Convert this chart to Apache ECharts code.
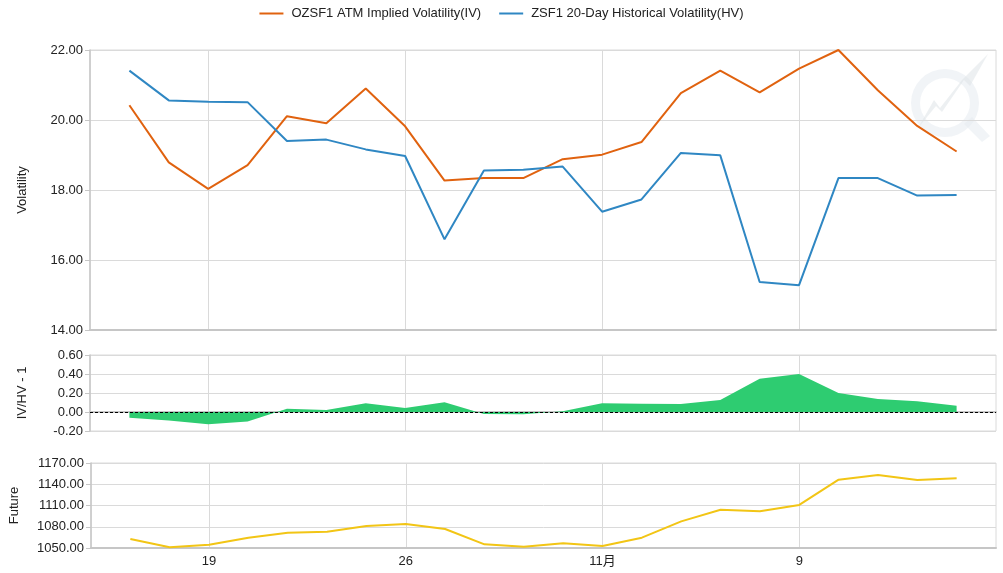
<!DOCTYPE html>
<html>
<head>
<meta charset="utf-8">
<style>
html,body{margin:0;padding:0;background:#fff;}
#chart{width:1003px;height:573px;}
</style>
<script src="https://cdn.jsdelivr.net/npm/echarts@6/dist/echarts.min.js"></script>
</head>
<body>
<div id="chart"></div>
<script>
// ---- data ----
const dates = ['10-15','10-16','10-19','10-20','10-21','10-22','10-23','10-26','10-27','10-28','10-29','10-30',
               '11-02','11-03','11-04','11-05','11-06','11-09','11-10','11-11','11-12','11-13'];
const tickLabels = {'10-19':'19','10-26':'26','11-02':'11月','11-09':'9'};
const ivValues = [20.42,18.79,18.03,18.71,20.11,19.91,20.90,19.82,18.27,18.34,18.34,18.88,
                  19.01,19.37,20.77,21.41,20.79,21.47,22.00,20.85,19.83,19.10];
const hvValues = [21.41,20.56,20.52,20.51,19.40,19.44,19.16,18.97,16.59,18.56,18.58,18.67,
                  17.38,17.73,19.06,18.99,15.37,15.28,18.34,18.34,17.84,17.86];
const ratioValues = [-0.06,-0.09,-0.13,-0.10,0.035,0.021,0.093,0.042,0.103,-0.02,-0.024,0.007,
                     0.091,0.088,0.085,0.126,0.35,0.40,0.20,0.137,0.112,0.067];
const futureValues = [1062.7,1051.0,1054.7,1064.6,1071.6,1073.0,1081.0,1083.9,1076.8,1055.2,1051.9,1056.6,
                      1052.8,1064.6,1087.6,1104.1,1101.8,1110.8,1146.5,1153.1,1146.0,1148.4];
const ivName = 'OZSF1 ATM Implied Volatility(IV)';
const hvName = 'ZSF1 20-Day Historical Volatility(HV)';

// ---- build ----
const cats = [''].concat(dates, ['']);
const pad = arr => ['-'].concat(arr, ['-']);
const showTick = (idx, val) => tickLabels[val] !== undefined;
const FONT = '"Liberation Sans", Arial, "Noto Sans CJK SC", sans-serif';
const gridColor = '#dadada';
const axisColor = '#c6c6c6';
const textColor = '#222';
const FS = 13;

function xAxis(gridIndex, showLabel) {
  return {
    type: 'category', gridIndex, data: cats, boundaryGap: false,
    axisLine: {show: true, lineStyle: {color: axisColor, width: 2}},
    axisTick: {show: false, interval: showTick},
    axisLabel: {show: showLabel, interval: showTick, color: textColor, fontSize: FS, fontFamily: FONT, margin: 7,
                formatter: v => tickLabels[v] || ''},
    splitLine: {show: true, interval: showTick, lineStyle: {color: gridColor, width: 1}}
  };
}
function yAxis(gridIndex, name, min, max, interval, nameGap) {
  return {
    type: 'value', gridIndex, min, max, interval,
    name, nameLocation: 'middle', nameGap, nameRotate: 90,
    nameTextStyle: {color: textColor, fontSize: FS, fontFamily: FONT},
    axisLine: {show: true, lineStyle: {color: axisColor, width: 1.5}},
    axisTick: {show: true, length: 5, lineStyle: {color: axisColor}},
    axisLabel: {color: textColor, fontSize: FS, fontFamily: FONT, margin: 7, formatter: v => v.toFixed(2)},
    splitLine: {show: true, lineStyle: {color: gridColor, width: 1}}
  };
}

const chart = echarts.init(document.getElementById('chart'), null, {renderer: 'canvas'});
chart.setOption({
  animation: false,
  backgroundColor: '#fff',
  textStyle: {fontFamily: FONT},
  legend: {
    data: [{name: ivName, icon: 'rect'}, {name: hvName, icon: 'rect'}], top: 2, left: 'center',
    itemWidth: 24, itemHeight: 2, itemGap: 18,
    textStyle: {color: textColor, fontSize: FS, fontFamily: FONT, padding: [0, 0, 0, 3]}
  },
  grid: [
    {left: 90, right: 7, top: 50, height: 280, show: true, borderColor: gridColor, borderWidth: 1},
    {left: 90, right: 7, top: 355, height: 76, show: true, borderColor: gridColor, borderWidth: 1},
    {left: 90, right: 7, top: 463, height: 85, show: true, borderColor: gridColor, borderWidth: 1}
  ],
  xAxis: [xAxis(0, false), xAxis(1, false), xAxis(2, true)],
  yAxis: [
    yAxis(0, 'Volatility', 14, 22, 2, 61),
    yAxis(1, 'IV/HV - 1', -0.2, 0.6, 0.2, 61),
    yAxis(2, 'Future', 1050, 1170, 30, 70)
  ],
  graphic: [
    {type: 'ring', z: 0, shape: {cx: 945, cy: 103, r: 34, r0: 25}, style: {fill: '#e6ebf0', opacity: 0.55}},
    {type: 'polygon', z: 0, shape: {points: [[964,124],[972,117],[990,136],[982,142]]}, style: {fill: '#e6ebf0', opacity: 0.55}},
    {type: 'polygon', z: 0, shape: {points: [[918,128],[934,100],[940,108],[962,80],[988,54],[970,86],[964,80],[942,112],[936,106]]},
     style: {fill: '#dfe3e8', opacity: 0.55}}
  ],
  series: [
    {name: ivName, type: 'line', xAxisIndex: 0, yAxisIndex: 0, data: pad(ivValues), symbol: 'none',
     lineStyle: {color: '#E0620F', width: 2}, itemStyle: {color: '#E0620F'}, z: 3},
    {name: hvName, type: 'line', xAxisIndex: 0, yAxisIndex: 0, data: pad(hvValues), symbol: 'none',
     lineStyle: {color: '#2F87C3', width: 2}, itemStyle: {color: '#2F87C3'}, z: 3},
    {name: 'IV/HV - 1', type: 'line', xAxisIndex: 1, yAxisIndex: 1, data: pad(ratioValues), symbol: 'none',
     lineStyle: {width: 0}, itemStyle: {color: '#2ECC71'}, areaStyle: {color: '#2ECC71', opacity: 1, origin: 0},
     markLine: {silent: true, symbol: ['none','none'], label: {show: false},
                lineStyle: {color: '#000', type: [3,2], width: 1}, data: [{yAxis: 0}]}},
    {name: 'Future', type: 'line', xAxisIndex: 2, yAxisIndex: 2, data: pad(futureValues), symbol: 'none',
     lineStyle: {color: '#F2C515', width: 2}, itemStyle: {color: '#F2C515'}}
  ]
});
</script>
</body>
</html>
